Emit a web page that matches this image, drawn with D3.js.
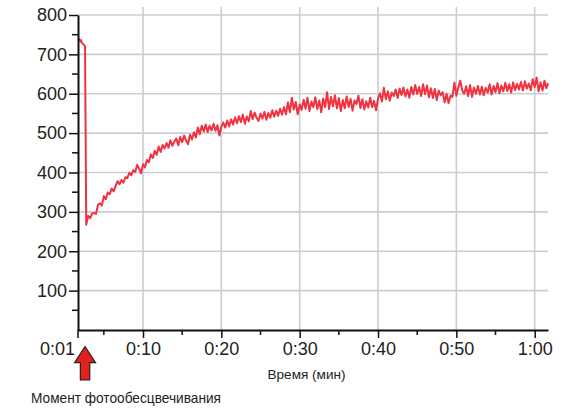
<!DOCTYPE html>
<html><head><meta charset="utf-8">
<script src="https://cdn.jsdelivr.net/npm/d3@7"></script>
<style>
html,body{margin:0;padding:0;background:#fff;}
svg{display:block;font-family:"Liberation Sans",Arial,Helvetica,sans-serif;}
</style></head>
<body><svg id="c" width="578" height="408"></svg>
<script>
// ---- data ----
const times = [1.7,1.9,2.0,2.1,2.2,2.35,2.5,2.6,2.75,
3.0,3.25,3.5,3.75,4.0,4.25,4.5,4.75,5.0,5.25,5.5,5.75,6.0,6.25,6.5,6.75,7.0,7.25,7.5,7.75,
8.0,8.25,8.5,8.75,9.0,9.25,9.5,9.75,10.0,10.25,10.5,10.75,11.0,11.25,11.5,11.75,12.0,12.25,12.5,12.75,
13.0,13.25,13.5,13.75,14.0,14.25,14.5,14.75,15.0,15.25,15.5,15.75,16.0,16.25,16.5,16.75,17.0,17.25,17.5,17.75,
18.0,18.25,18.5,18.75,19.0,19.25,19.5,19.75,20.0,20.25,20.5,20.75,21.0,21.25,21.5,21.75,22.0,22.25,22.5,22.75,
23.0,23.25,23.5,23.75,24.0,24.25,24.5,24.75,25.0,25.25,25.5,25.75,26.0,26.25,26.5,26.75,27.0,27.25,27.5,27.75,
28.0,28.25,28.5,28.75,29.0,29.25,29.5,29.75,30.0,30.25,30.5,30.75,31.0,31.25,31.5,31.75,32.0,32.25,32.5,32.75,
33.0,33.25,33.5,33.75,34.0,34.25,34.5,34.75,35.0,35.25,35.5,35.75,36.0,36.25,36.5,36.75,37.0,37.25,37.5,37.75,
38.0,38.25,38.5,38.75,39.0,39.25,39.5,39.75,40.0,40.25,40.5,40.75,41.0,41.25,41.5,41.75,42.0,42.25,42.5,42.75,
43.0,43.25,43.5,43.75,44.0,44.25,44.5,44.75,45.0,45.25,45.5,45.75,46.0,46.25,46.5,46.75,47.0,47.25,47.5,47.75,
48.0,48.25,48.5,48.75,49.0,49.25,49.5,49.75,50.0,50.25,50.5,50.75,51.0,51.25,51.5,51.75,52.0,52.25,52.5,52.75,
53.0,53.25,53.5,53.75,54.0,54.25,54.5,54.75,55.0,55.25,55.5,55.75,56.0,56.25,56.5,56.75,57.0,57.25,57.5,57.75,
58.0,58.25,58.5,58.75,59.0,59.25,59.5,59.75,60.0,60.25,60.5,60.75,61.0,61.25,61.5,61.7];
const signal = [740,738,733,736,729,727,723,720,267,
290,284,296,297,295,318,322,316,340,332,349,345,359,352,366,378,370,381,374,388,
386,399,393,406,401,419,410,398,421,413,432,426,446,437,455,445,466,452,470,461,
475,463,482,468,479,486,469,490,477,494,481,472,496,484,502,489,514,497,519,504,
522,503,519,507,524,506,520,494,516,527,514,532,517,535,522,540,525,543,528,547,
524,542,530,556,535,552,539,531,550,537,554,534,551,539,558,542,557,544,562,547,
566,548,578,553,590,560,579,548,573,559,585,562,590,556,580,566,591,561,583,553,
588,566,604,561,592,568,596,563,589,556,584,563,593,566,587,557,583,574,595,564,
586,560,581,565,590,566,582,558,588,601,580,615,586,606,582,603,594,611,589,613,
597,616,593,611,590,617,598,622,600,617,594,624,599,621,591,614,589,612,584,608,
596,604,578,600,576,595,592,628,595,616,633,609,600,619,594,622,592,616,600,620,
598,618,596,615,603,624,598,620,604,627,601,621,606,628,607,624,603,629,609,625,
611,630,608,632,613,626,609,637,617,641,606,629,608,633,614,627];
const yMajor = [100,200,300,400,500,600,700,800];
const yMinor = [50,150,250,350,450,550,650,750];
const xMajor = [10,20,30,40,50,60];
const xMajorLabels = ["0:10","0:20","0:30","0:40","0:50","1:00"];
const xMinor = [5,15,25,35,45,55];
const xStart = 1.7, xEnd = 61.7;
const xStartLabel = "0:01";
const xTitle = "Время (мин)";
const markerLabel = "Момент фотообесцвечивания";
const markerTime = 2.6;

// ---- chart ----
const svg = d3.select("#c");
const x = d3.scaleLinear().domain([xStart, xEnd]).range([78, 548]);
const y = d3.scaleLinear().domain([0, 800]).range([330, 15]);
const grid = "#c9cdd4";

// grid
svg.append("g").selectAll("line").data(yMajor).join("line")
  .attr("x1", x(xStart)).attr("x2", x(xEnd))
  .attr("y1", d => y(d)).attr("y2", d => y(d))
  .attr("stroke", grid).attr("stroke-width", 1.6);
svg.append("g").selectAll("line").data(xMajor).join("line")
  .attr("x1", d => x(d)).attr("x2", d => x(d))
  .attr("y1", 7).attr("y2", y(0))
  .attr("stroke", grid).attr("stroke-width", 1.6);

// data line
const line = d3.line().x((d, i) => x(times[i])).y(d => y(d));
svg.append("path").datum(signal)
  .attr("d", line).attr("fill", "none")
  .attr("stroke", "#ef3340").attr("stroke-width", 2)
  .attr("stroke-linejoin", "round");

// y axis
const yAxis = svg.append("g").attr("transform", `translate(${x(xStart)},0)`)
  .call(d3.axisLeft(y).tickValues(yMajor).tickSize(9).tickPadding(2).tickSizeOuter(0));
yAxis.select(".domain").attr("stroke", "#111").attr("stroke-width", 2);
yAxis.selectAll(".tick line").attr("stroke", "#111").attr("stroke-width", 1.5);
yAxis.selectAll(".tick text").attr("font-size", 18).attr("fill", "#222")
  .attr("font-family", "'Liberation Sans',Arial,sans-serif");
svg.append("g").selectAll("line").data(yMinor).join("line")
  .attr("x1", x(xStart) - 6).attr("x2", x(xStart))
  .attr("y1", d => y(d)).attr("y2", d => y(d))
  .attr("stroke", "#111").attr("stroke-width", 1.5);

// x axis
const xAxis = svg.append("g").attr("transform", `translate(0,${y(0)})`)
  .call(d3.axisBottom(x).tickValues(xMajor).tickFormat((d, i) => xMajorLabels[i])
    .tickSize(8).tickPadding(4).tickSizeOuter(0));
xAxis.select(".domain").attr("stroke", "#111").attr("stroke-width", 2);
xAxis.selectAll(".tick line").attr("stroke", "#111").attr("stroke-width", 1.5);
xAxis.selectAll(".tick text").attr("font-size", 18).attr("fill", "#222")
  .attr("font-family", "'Liberation Sans',Arial,sans-serif");
svg.append("g").selectAll("line").data(xMinor.concat([xStart])).join("line")
  .attr("x1", d => x(d)).attr("x2", d => x(d))
  .attr("y1", y(0)).attr("y2", (d) => y(0) + (d === xStart ? 8 : 5))
  .attr("stroke", "#111").attr("stroke-width", 1.5);
svg.append("text").attr("x", x(xStart) - 3).attr("y", y(0) + 25)
  .attr("text-anchor", "end").attr("font-size", 18).attr("fill", "#222")
  .text(xStartLabel);

// titles
svg.append("text").attr("x", 306.5).attr("y", 379)
  .attr("text-anchor", "middle").attr("font-size", 13).attr("fill", "#222")
  .attr("textLength", 78).attr("lengthAdjust", "spacingAndGlyphs")
  .text(xTitle);
svg.append("text").attr("x", 31).attr("y", 402.5)
  .attr("font-size", 15).attr("fill", "#222")
  .attr("textLength", 190).attr("lengthAdjust", "spacingAndGlyphs")
  .text(markerLabel);

// arrow marker
const ax = x(markerTime);
const arrow = d3.path();
arrow.moveTo(ax, 346.5);
arrow.lineTo(ax + 10.5, 362.7);
arrow.lineTo(ax + 4.7, 362.7);
arrow.lineTo(ax + 4.7, 380);
arrow.lineTo(ax - 4.7, 380);
arrow.lineTo(ax - 4.7, 362.7);
arrow.lineTo(ax - 10.5, 362.7);
arrow.closePath();
svg.append("path").attr("d", arrow.toString())
  .attr("fill", "#e4201e").attr("stroke", "#222").attr("stroke-width", 1.2)
  .attr("stroke-linejoin", "miter");
</script></body></html>
